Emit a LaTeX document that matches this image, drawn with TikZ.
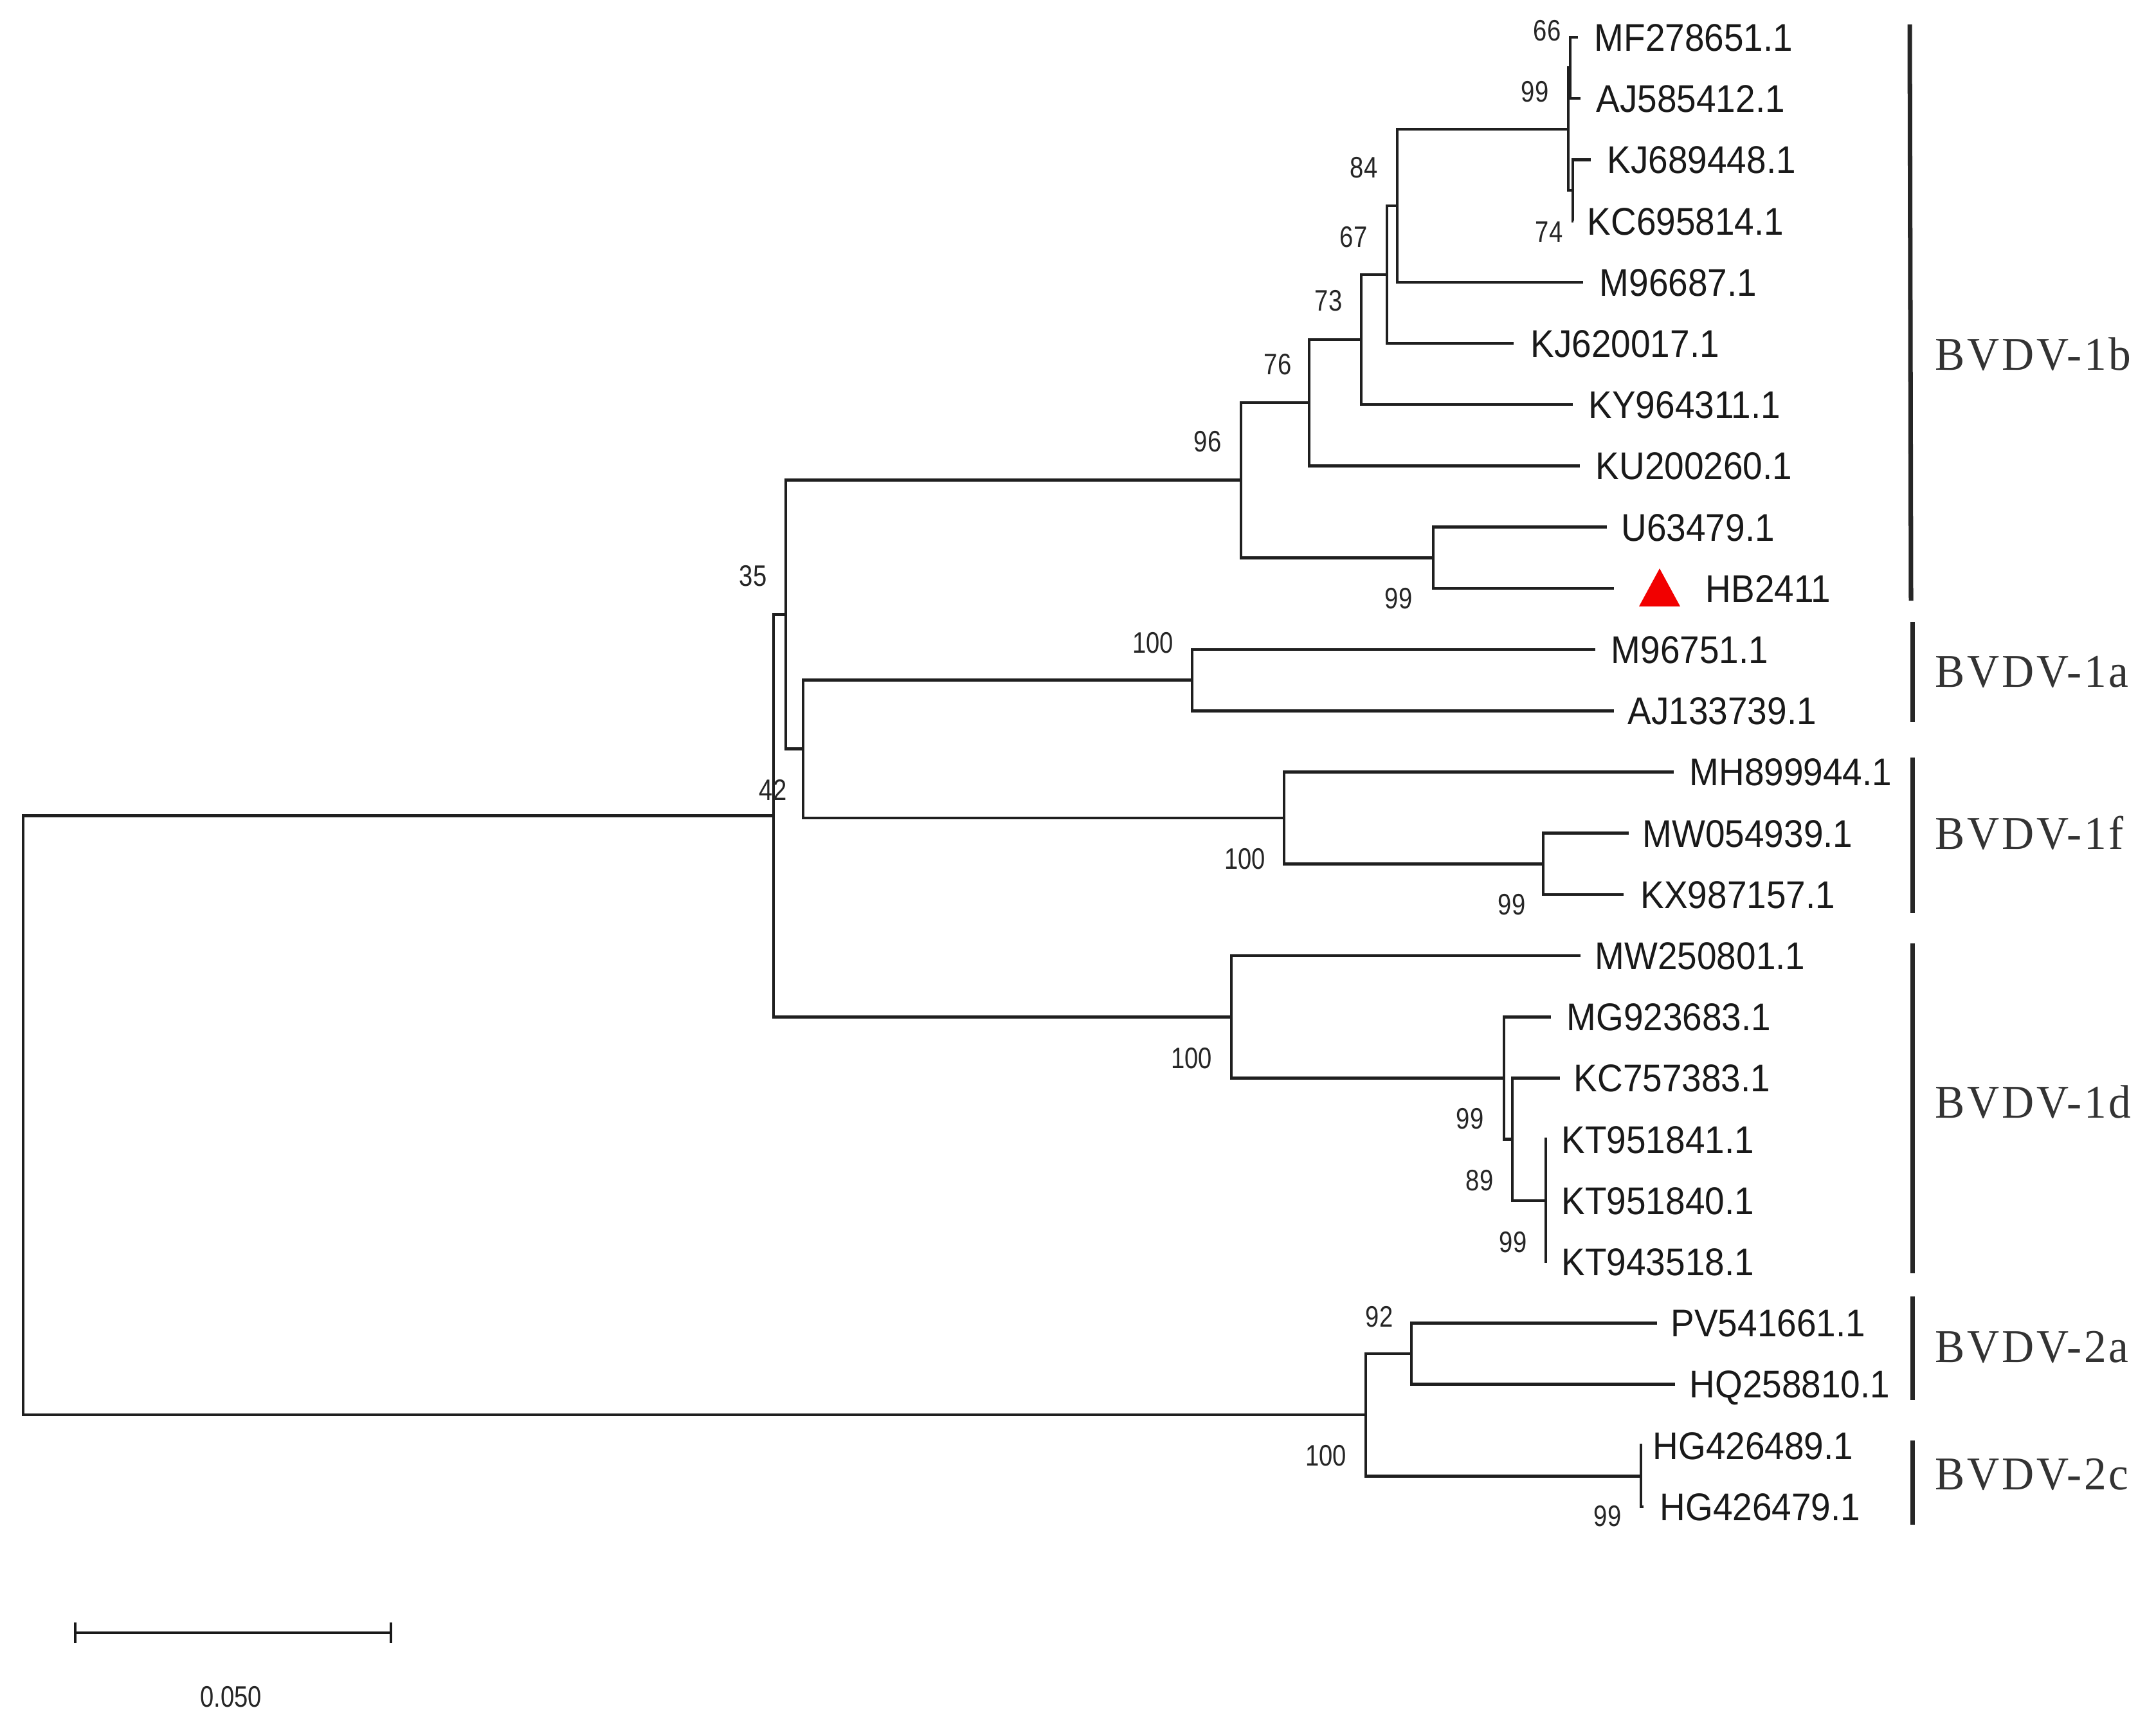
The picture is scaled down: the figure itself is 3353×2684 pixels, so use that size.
\documentclass[tikz,border=0pt]{standalone}
\usepackage{fontspec}
\newfontfamily\leaffont[FakeStretch=0.915]{Liberation Sans}
\newfontfamily\bootfont[FakeStretch=0.83]{Liberation Sans}
\newfontfamily\grpfont[FakeStretch=0.95,LetterSpace=5]{Liberation Serif}
\begin{document}
\begin{tikzpicture}[x=0.01cm,y=-0.01cm,
  branch/.style={line width=1.3pt, draw=black!88},
  leaf/.style={anchor=base west, inner sep=0pt, text=black!90, font=\leaffont\fontsize{17.07pt}{20pt}\selectfont},
  boot/.style={anchor=center, inner sep=0pt, text=black!85, font=\bootfont\fontsize{13.09pt}{15pt}\selectfont},
  grp/.style={anchor=base west, inner sep=0pt, text=black!80, font=\grpfont\fontsize{20.77pt}{24pt}\selectfont},
  cladebar/.style={line width=2pt, draw=black!85},
  scalebar/.style={line width=1pt, draw=black!90}]
\useasboundingbox[fill=white] (0,0) rectangle (3353,2684);

% ---- leaf tips ----
\coordinate (l0) at (2454,58);
\coordinate (l1) at (2458,153.2);
\coordinate (l2) at (2474,248.4);
\coordinate (l3) at (2447,343.6);
\coordinate (l4) at (2462,438.8);
\coordinate (l5) at (2354,534);
\coordinate (l6) at (2446,629.2);
\coordinate (l7) at (2457,724.4);
\coordinate (l8) at (2499,819.6);
\coordinate (l9) at (2510,914.8);
\coordinate (l10) at (2481,1010);
\coordinate (l11) at (2510,1105.2);
\coordinate (l12) at (2603,1200.4);
\coordinate (l13) at (2533,1295.6);
\coordinate (l14) at (2525,1390.8);
\coordinate (l15) at (2458,1486);
\coordinate (l16) at (2412,1581.2);
\coordinate (l17) at (2426,1676.4);
\coordinate (l18) at (2406,1771.6);
\coordinate (l19) at (2406,1866.8);
\coordinate (l20) at (2406,1962);
\coordinate (l21) at (2577,2057.2);
\coordinate (l22) at (2605,2152.4);
\coordinate (l23) at (2554,2247.6);
\coordinate (l24) at (2556,2342.8);

% ---- internal nodes ----
\coordinate (n66) at (2442,105.6);
\coordinate (n74) at (2446,296);
\coordinate (n99a) at (2439,200.8);
\coordinate (n84) at (2173,319.8);
\coordinate (n67) at (2157,426.9);
\coordinate (n73) at (2117,528);
\coordinate (n76) at (2036,626.2);
\coordinate (nHB) at (2229,867.2);
\coordinate (n96) at (1930,746.7);
\coordinate (n1a) at (1854,1057.6);
\coordinate (n1fs) at (2400,1343.2);
\coordinate (n1f) at (1997,1271.8);
\coordinate (n1af) at (1249,1164.7);
\coordinate (n35) at (1222,955.7);
\coordinate (nKT) at (2404,1866.8);
\coordinate (n89) at (2352,1771.6);
\coordinate (n99d) at (2339,1676.4);
\coordinate (n1d) at (1915,1581.2);
\coordinate (n42) at (1203,1268.5);
\coordinate (n2a) at (2195,2104.8);
\coordinate (n2c) at (2552,2295.2);
\coordinate (n2) at (2124,2200);
\coordinate (root) at (36,1734);

% ---- branches ----
\draw[branch] (n66) |- (l0);  \draw[branch] (n66) |- (l1);
\draw[branch] (n74) |- (l2);  \draw[branch] (n74) |- (l3);
\draw[branch] (n99a) |- (n66); \draw[branch] (n99a) |- (n74);
\draw[branch] (n84) |- (n99a); \draw[branch] (n84) |- (l4);
\draw[branch] (n67) |- (n84); \draw[branch] (n67) |- (l5);
\draw[branch] (n73) |- (n67); \draw[branch] (n73) |- (l6);
\draw[branch] (n76) |- (n73); \draw[branch] (n76) |- (l7);
\draw[branch] (nHB) |- (l8);  \draw[branch] (nHB) |- (l9);
\draw[branch] (n96) |- (n76); \draw[branch] (n96) |- (nHB);
\draw[branch] (n1a) |- (l10); \draw[branch] (n1a) |- (l11);
\draw[branch] (n1fs) |- (l13); \draw[branch] (n1fs) |- (l14);
\draw[branch] (n1f) |- (l12); \draw[branch] (n1f) |- (n1fs);
\draw[branch] (n1af) |- (n1a); \draw[branch] (n1af) |- (n1f);
\draw[branch] (n35) |- (n96); \draw[branch] (n35) |- (n1af);
\draw[branch] (nKT) |- (l18); \draw[branch] (nKT) |- (l19); \draw[branch] (nKT) |- (l20);
\draw[branch] (n89) |- (l17); \draw[branch] (n89) |- (nKT);
\draw[branch] (n99d) |- (l16); \draw[branch] (n99d) |- (n89);
\draw[branch] (n1d) |- (l15); \draw[branch] (n1d) |- (n99d);
\draw[branch] (n42) |- (n35); \draw[branch] (n42) |- (n1d);
\draw[branch] (n2a) |- (l21); \draw[branch] (n2a) |- (l22);
\draw[branch] (n2c) |- (l23); \draw[branch] (n2c) |- (l24);
\draw[branch] (n2) |- (n2a); \draw[branch] (n2) |- (n2c);
\draw[branch] (root) |- (n42); \draw[branch] (root) |- (n2);

% ---- leaf labels ----
\node[leaf] (t0) at (2479,79.5) {MF278651.1};
\node[leaf] (t1) at (2482,174.7) {AJ585412.1};
\node[leaf] (t2) at (2499,269.9) {KJ689448.1};
\node[leaf] (t3) at (2468,365.1) {KC695814.1};
\node[leaf] (t4) at (2487,460.3) {M96687.1};
\node[leaf] (t5) at (2380,555.5) {KJ620017.1};
\node[leaf] (t6) at (2470,650.7) {KY964311.1};
\node[leaf] (t7) at (2481,745.9) {KU200260.1};
\node[leaf] (t8) at (2521,841.1) {U63479.1};
\node[leaf] (t9) at (2652,936.3) {HB2411};
\node[leaf] (t10) at (2505,1031.5) {M96751.1};
\node[leaf] (t11) at (2531,1126.7) {AJ133739.1};
\node[leaf] (t12) at (2627,1221.9) {MH899944.1};
\node[leaf] (t13) at (2554,1317.1) {MW054939.1};
\node[leaf] (t14) at (2551,1412.3) {KX987157.1};
\node[leaf] (t15) at (2480,1507.5) {MW250801.1};
\node[leaf] (t16) at (2436,1602.7) {MG923683.1};
\node[leaf] (t17) at (2447,1697.9) {KC757383.1};
\node[leaf] (t18) at (2428,1793.1) {KT951841.1};
\node[leaf] (t19) at (2428,1888.3) {KT951840.1};
\node[leaf] (t20) at (2428,1983.5) {KT943518.1};
\node[leaf] (t21) at (2598,2078.7) {PV541661.1};
\node[leaf] (t22) at (2627,2173.9) {HQ258810.1};
\node[leaf] (t23) at (2570,2269.1) {HG426489.1};
\node[leaf] (t24) at (2581,2364.3) {HG426479.1};

% ---- red triangle marker ----
\fill[red!95!black] (2549,943) -- (2613,943) -- (2581,884) -- cycle;

% ---- bootstrap values ----
\node[boot] (b66) at (2406,48) {66};
\node[boot] (b99a) at (2387,143) {99};
\node[boot] (b74) at (2409,361) {74};
\node[boot] (b84) at (2121,261) {84};
\node[boot] (b67) at (2105,369) {67};
\node[boot] (b73) at (2066,468) {73};
\node[boot] (b76) at (1987,567) {76};
\node[boot] (b96) at (1878,687) {96};
\node[boot] (bHB) at (2175,931) {99};
\node[boot] (b35) at (1171,896) {35};
\node[boot] (b1a) at (1793,1000) {100};
\node[boot] (b42) at (1202,1228) {42};
\node[boot] (b1f) at (1936,1336) {100};
\node[boot] (b1fs) at (2351,1407) {99};
\node[boot] (b1d) at (1853,1646) {100};
\node[boot] (b99d) at (2286,1740) {99};
\node[boot] (b89) at (2301,1836) {89};
\node[boot] (bKT) at (2353,1932) {99};
\node[boot] (b92) at (2145,2048) {92};
\node[boot] (b2) at (2062,2264) {100};
\node[boot] (b2c) at (2500,2358) {99};

% ---- clade bars ----
\coordinate (g1bt) at (2970,38);   \coordinate (g1bb) at (2972,934);
\coordinate (g1at) at (2974,967);  \coordinate (g1ab) at (2974,1123);
\coordinate (g1ft) at (2974,1178); \coordinate (g1fb) at (2974,1420);
\coordinate (g1dt) at (2974,1467); \coordinate (g1db) at (2974,1980);
\coordinate (g2at) at (2974,2016); \coordinate (g2ab) at (2974,2177);
\coordinate (g2ct) at (2974,2240); \coordinate (g2cb) at (2974,2371);
\draw[cladebar] (g1bt) -- (g1bb);
\draw[cladebar] (g1at) -- (g1ab);
\draw[cladebar] (g1ft) -- (g1fb);
\draw[cladebar] (g1dt) -- (g1db);
\draw[cladebar] (g2at) -- (g2ab);
\draw[cladebar] (g2ct) -- (g2cb);
\node[grp] (G1b) at (3009,575) {BVDV-1b};
\node[grp] (G1a) at (3009,1068) {BVDV-1a};
\node[grp] (G1f) at (3009,1320) {BVDV-1f};
\node[grp] (G1d) at (3009,1738) {BVDV-1d};
\node[grp] (G2a) at (3009,2118) {BVDV-2a};
\node[grp] (G2c) at (3009,2316) {BVDV-2c};

% ---- scale bar ----
\coordinate (sL) at (117,2539);
\coordinate (sR) at (608,2539);
\draw[scalebar] (sL) -- (sR);
\draw[scalebar] ([yshift=-0.16cm]sL) -- ([yshift=0.16cm]sL);
\draw[scalebar] ([yshift=-0.16cm]sR) -- ([yshift=0.16cm]sR);
\node[boot] (sc) at (359,2639) {0.050};
\end{tikzpicture}
\end{document}
